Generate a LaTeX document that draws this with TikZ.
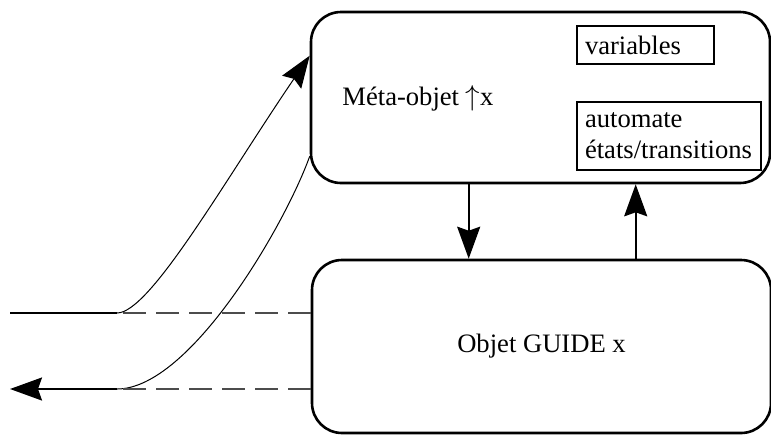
\documentclass[tikz,border=0pt]{standalone}
\usepackage{fontspec}
\setmainfont{Liberation Serif}
\usetikzlibrary{arrows.meta,positioning}

\begin{document}
\begin{tikzpicture}[x=0.5pt, y=-0.5pt, font=\fontsize{13.3}{15.5}\selectfont,
    obj/.style={rectangle, draw, line width=1.3pt, rounded corners=15pt,
              minimum width=229.5pt, minimum height=85.5pt, align=center},
    part/.style={rectangle, draw, line width=1pt, anchor=north west,
              inner xsep=4pt, align=left},
    arr/.style={-{Stealth[length=16pt, width=11.5pt, inset=2pt]}},
    hidden/.style={dash pattern=on 11.5pt off 5pt, line width=0.6pt, black!70}]
\useasboundingbox (0,0) rectangle (771,435);
\node[obj] (meta) at (540.5,97.5) {};
\node[obj, minimum height=86.5pt] (guide) at (541.5,346.5) {Objet GUIDE x};
\node[anchor=base west, inner sep=0pt] (metatxt) at (342,105) {Méta-objet $\uparrow$x};
\node[part, text width=60.5pt, minimum height=19pt] (vars) at (576,25) {variables};
\node[part, text width=84pt, minimum height=34pt] (autom) at (576,101) {automate\\états/transitions};
% liens entre les deux objets
\draw[arr, line width=1pt] ([xshift=79.5pt]meta.south west) -- ([xshift=79pt]guide.north west);
\draw[arr, line width=1pt] ([xshift=162.5pt]guide.north west) -- ([xshift=163pt]meta.south west);
% messages entrant et sortant
\coordinate (inStart) at (10,313);
\coordinate (inBend) at (117,313);
\coordinate (outBend) at (117,389);
\coordinate (outEnd) at (10,389);
\draw[line width=1pt] (inStart) -- (inBend);
\draw[hidden] (inBend -| guide.west) -- (inBend);
\draw[arr, line width=0.5pt] (inBend) .. controls (150,313) and (225,180) .. ([yshift=-22.5pt]meta.north west);
\draw[line width=0.5pt] ([yshift=14pt]meta.south west) .. controls (285,225) and (190,389) .. (outBend);
\draw[arr, line width=1pt] (outBend) -- (outEnd);
\draw[hidden] (outBend -| guide.west) -- (outBend);
\end{tikzpicture}
\end{document}
